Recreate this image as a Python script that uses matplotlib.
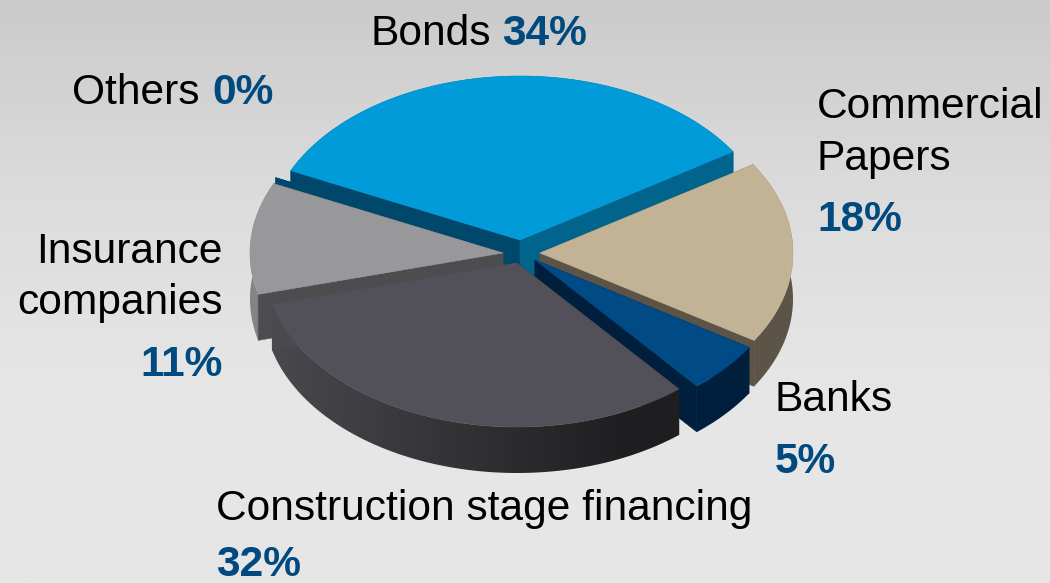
import numpy as np
import matplotlib
matplotlib.use("Agg")
import matplotlib.pyplot as plt
from matplotlib.patches import Polygon
from matplotlib.colors import LinearSegmentedColormap

plt.rcParams['font.family'] = ['Liberation Sans', 'DejaVu Sans']

# data
categories = ["Bonds", "Commercial Papers", "Banks", "Construction stage financing", "Insurance companies", "Others"]
shares = [34, 18, 5, 32, 11, 0]

# style / layout
W, H = 1050, 583
START = 155.0
RX, RY, DEPTH = 253.0, 164.0, 46.0
apex = [(520, 240), (540, 253), (535, 260), (517, 263), (503, 253), (505, 247)]
top_col = ["#009bd8", "#c2b396", "#004a86", "#52515a", "#98989a", "#009bd8"]
wall_a = ["#00486b", "#5c5547", "#001f3d", "#1e1e20", "#7d7d7f", "#00486b"]   # right-most rim colour
wall_b = ["#00486b", "#5c5547", "#001f3d", "#4a494e", "#858587", "#00486b"]   # left-most rim colour
cut_start = ["#00486b", "#5c5547", "#001f3d", "#1e1e20", "#4d4c4e", "#00486b"]  # face at higher angle
cut_end = ["#00648c", "#5c5547", "#001f3d", "#4a494e", "#4d4c4e", "#00486b"]    # face at lower angle
draw_order = [0, 5, 1, 4, 2, 3]

fig = plt.figure(figsize=(W / 100, H / 100), dpi=100)
ax = fig.add_axes([0, 0, 1, 1])

bg = LinearSegmentedColormap.from_list("bg", ["#cbcbcb", "#dcdcdc", "#e6e6e6", "#e6e6e6"])
ax.imshow(np.linspace(0, 1, 256)[:, None], cmap=bg, extent=[0, W, H, 0], aspect="auto", zorder=0)


def rim(cx, cy, a0, a1, n=200):
    t = np.radians(np.linspace(a0, a1, n))
    return np.column_stack([cx + RX * np.cos(t), cy - RY * np.sin(t)])


angles = START - np.concatenate([[0], np.cumsum(shares)]) * 3.6
z = 2
for i in draw_order:
    cx, cy = apex[i]
    a0, a1 = angles[i], angles[i + 1]
    if shares[i] == 0:
        a0, a1 = START, START - 0.01
    r = rim(cx, cy, a0, a1)
    # outer wall: horizontal shading clipped to the wall outline
    low = r + [0, DEPTH]
    outline = Polygon(np.vstack([r, low[::-1]]), closed=True, fc="none", ec="none", transform=ax.transData)
    ax.add_patch(outline)
    cm = LinearSegmentedColormap.from_list("w%d" % i, [wall_b[i], wall_a[i]])
    x0, x1 = r[:, 0].min(), r[:, 0].max()
    span0, span1 = cx - RX, cx - RX + 1.45 * RX
    xs = np.linspace(x0, x1, 256)
    grad = np.clip((xs - span0) / (span1 - span0), 0, 1)[None, :]
    y0, y1 = r[:, 1].min(), low[:, 1].max()
    if x1 - x0 > 1:
        im = ax.imshow(grad, cmap=cm, vmin=0, vmax=1, extent=[x0, x1, y1, y0], aspect="auto", zorder=z)
        im.set_clip_path(outline)
    z += 1
    # cut faces
    for p, c in ((r[0], cut_start[i]), (r[-1], cut_end[i])):
        ax.add_patch(Polygon([(cx, cy), p, p + [0, DEPTH], (cx, cy + DEPTH)], closed=True,
                             fc=c, ec=c, lw=0.4, zorder=z))
        z += 1
    # top face
    if shares[i] > 0:
        ax.add_patch(Polygon(np.vstack([[cx, cy], r]), closed=True, fc=top_col[i], ec=top_col[i], lw=0.4, zorder=z))
    z += 1

ax.set_xlim(0, W)
ax.set_ylim(H, 0)
ax.axis("off")

FS = 30.6
BLACK = "#000000"
BLUE = "#004a80"
labels = [
    ("Bonds", 371, 45, "left", BLACK, "normal"),
    ("34%", 502, 45, "left", BLUE, "bold"),
    ("Others", 72, 104, "left", BLACK, "normal"),
    ("0%", 212, 104, "left", BLUE, "bold"),
    ("Commercial", 817, 118, "left", BLACK, "normal"),
    ("Papers", 817, 170, "left", BLACK, "normal"),
    ("18%", 817, 231, "left", BLUE, "bold"),
    ("Insurance", 223, 263, "right", BLACK, "normal"),
    ("companies", 223, 314, "right", BLACK, "normal"),
    ("11%", 223, 376, "right", BLUE, "bold"),
    ("Banks", 775, 411, "left", BLACK, "normal"),
    ("5%", 775, 473, "left", BLUE, "bold"),
    ("Construction stage financing", 216, 520, "left", BLACK, "normal"),
    ("32%", 216, 576, "left", BLUE, "bold"),
]
for s, x, y, ha, c, w in labels:
    ax.text(x, y, s, ha=ha, va="baseline", color=c, fontweight=w, fontsize=FS, zorder=100)

fig.savefig("out.png", dpi=100)
